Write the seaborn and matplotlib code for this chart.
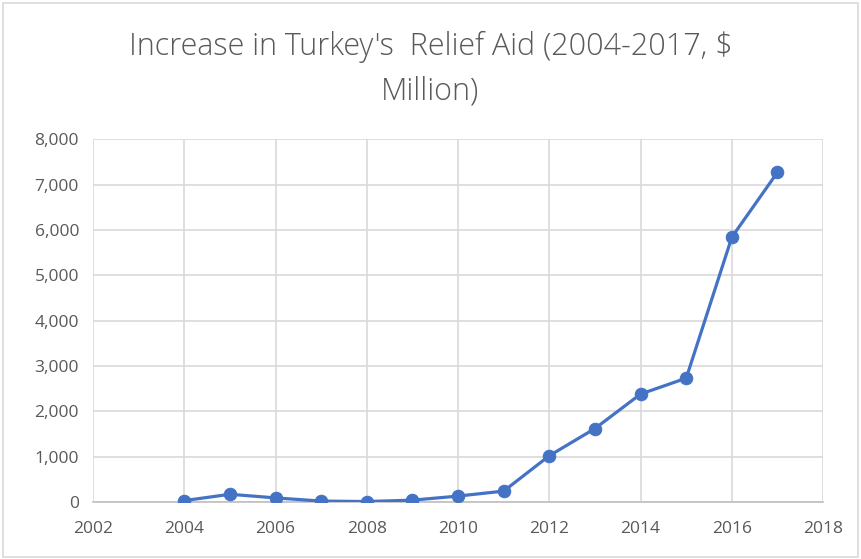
import matplotlib
matplotlib.use("Agg")
import matplotlib.pyplot as plt
import matplotlib.ticker as mticker
import seaborn as sns
import pandas as pd

years = [2004, 2005, 2006, 2007, 2008, 2009, 2010, 2011, 2012, 2013, 2014, 2015, 2016, 2017]
aid = [30, 170, 90, 20, 10, 40, 130, 240, 1020, 1620, 2380, 2730, 5840, 7270]
title = "Increase in Turkey's  Relief Aid (2004-2017, $\nMillion)"
x_ticks = [2002, 2004, 2006, 2008, 2010, 2012, 2014, 2016, 2018]
y_ticks = [0, 1000, 2000, 3000, 4000, 5000, 6000, 7000, 8000]

df = pd.DataFrame({"year": years, "aid": aid})

sns.set_theme(style="white")
plt.rcParams['font.family'] = ['Open Sans', 'DejaVu Sans']

fig = plt.figure(figsize=(8.61, 5.59), dpi=100)
ax = fig.add_axes([0.108, 0.102, 0.848, 0.649])

sns.lineplot(data=df, x="year", y="aid", ax=ax, color="#4472C4", linewidth=2.3,
             marker="o", markersize=9, markeredgecolor="#4472C4", zorder=3)

ax.set_xlim(2002, 2018)
ax.set_ylim(0, 8000)
ax.set_xticks(x_ticks)
ax.set_yticks(y_ticks)
ax.yaxis.set_major_formatter(mticker.FuncFormatter(lambda v, p: f"{int(v):,}"))
ax.grid(True, color="#d9d9d9", linewidth=1.2)
ax.set_axisbelow(True)
for s in ["top", "right"]:
    ax.spines[s].set_visible(False)
ax.spines["left"].set_visible(False)
ax.spines["bottom"].set_color("#bfbfbf")
ax.spines["bottom"].set_linewidth(1.2)
ax.tick_params(axis="both", colors="#595959", labelsize=12.5, length=0)
ax.tick_params(axis="x", pad=14)
ax.tick_params(axis="y", pad=10)
ax.set_xlabel("")
ax.set_ylabel("")

fig.text(0.5, 0.876, title, ha="center", va="center", fontsize=22, color="#595959",
         linespacing=1.5, fontweight="light")

border = plt.Rectangle((0.004, 0.004), 0.992, 0.99, transform=fig.transFigure,
                       fill=False, edgecolor="#d9d9d9", linewidth=1.2)
fig.patches.append(border)

fig.savefig("out.png", dpi=100)
